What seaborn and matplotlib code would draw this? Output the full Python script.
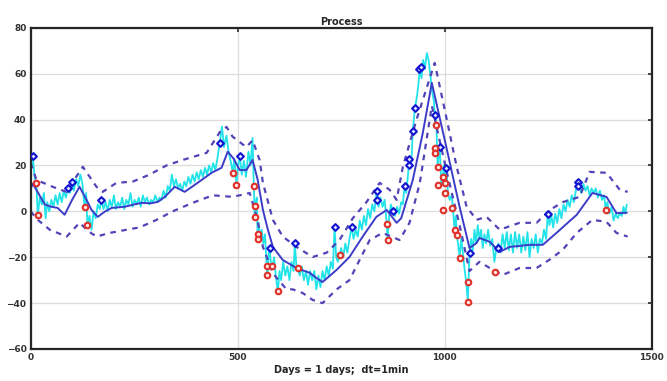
import matplotlib
matplotlib.use('Agg')
import matplotlib.pyplot as plt
import seaborn as sns

# noisy observations (cyan)
obs_x = [0, 5, 10, 14, 17, 22, 27, 32, 36, 40, 45, 50, 55, 60, 65, 70, 75, 80, 85, 90, 95, 99, 104, 110, 115, 120, 125, 130, 134, 137,
         142, 147, 152, 157, 162, 167, 171, 176, 181, 186, 191, 196, 201, 206, 211, 216, 221, 226, 231, 236, 241, 246, 251, 256, 261,
         266, 271, 276, 281, 286, 291, 296, 301, 306, 311, 316, 321, 326, 331, 336, 341, 346, 351, 356, 361, 366, 371, 376, 381, 386,
         391, 396, 401, 406, 411, 416, 421, 426, 431, 436, 441, 446, 451, 457, 462, 467, 473, 478, 483, 488, 492, 497, 501, 505, 510,
         515, 520, 526, 531, 536, 539, 541, 543, 546, 548, 551, 554, 558, 562, 566, 570, 572, 575, 577, 580, 584, 588, 592, 597, 601,
         605, 610, 615, 620, 625, 630, 635, 638, 642, 645, 650, 655, 660, 665, 670, 675, 680, 685, 690, 695, 700, 705, 710, 715, 720,
         725, 730, 734, 738, 742, 746, 750, 755, 760, 765, 770, 775, 780, 785, 790, 795, 800, 805, 810, 815, 820, 825, 830, 836, 840,
         845, 850, 855, 860, 862, 866, 870, 875, 880, 885, 890, 895, 899, 903, 907, 911, 915, 919, 923, 928, 933, 937, 940, 944, 948,
         952, 957, 961, 965, 970, 974, 976, 980, 983, 986, 988, 992, 995, 998, 1000, 1004, 1008, 1012, 1017, 1020, 1024, 1027, 1029,
         1033, 1036, 1040, 1044, 1048, 1052, 1056, 1060, 1064, 1068, 1072, 1076, 1080, 1084, 1088, 1092, 1096, 1100, 1105, 1110, 1115,
         1120, 1125, 1130, 1135, 1140, 1145, 1150, 1155, 1160, 1165, 1170, 1175, 1180, 1185, 1190, 1195, 1200, 1205, 1210, 1215, 1220,
         1225, 1230, 1235, 1240, 1245, 1249, 1253, 1258, 1262, 1267, 1272, 1277, 1282, 1287, 1292, 1297, 1302, 1307, 1312, 1317, 1321,
         1325, 1330, 1335, 1340, 1345, 1350, 1355, 1360, 1365, 1370, 1375, 1380, 1385, 1389, 1393, 1398, 1403, 1408, 1413, 1418, 1423,
         1428, 1432, 1436, 1440]
obs_y = [18, 24, 14, 12, -2, 6, 3, 8, -3, 4, 0, 5, 2, 7, 3, 8, 4, 9, 6, 10, 8, 13, 9, 14, 11, 16, 12, 2, 8, -6,
         -2, -8, 0, -3, 3, 1, 5, 1, 4, 0, 5, 2, 7, 1, 4, 2, 6, 1, 5, 3, 8, 2, 5, 3, 6,
         2, 7, 4, 6, 3, 5, 4, 7, 4, 6, 5, 9, 6, 11, 9, 16, 11, 14, 10, 12, 9, 13, 11, 15, 12,
         16, 13, 17, 14, 18, 15, 19, 16, 20, 17, 21, 18, 23, 30, 37, 28, 33, 26, 22, 17, 23, 12, 20, 24, 16,
         22, 15, 26, 20, 32, 11, -2, 2, 6, -10, -5, -12, -8, -14, -10, -24, -28, -18, -16, -22, -24, -20, -28, -35, -26,
         -30, -22, -28, -24, -30, -22, -26, -14, -24, -25, -28, -24, -30, -26, -32, -26, -30, -26, -34, -28, -33, -26, -30, -24, -28,
         -22, -25, -7, -20, -22, -19, -16, -20, -14, -18, -12, -7, -12, -8, -11, -4, -8, -2, -6, 1, -3, 3, 0, 9, 2,
         6, 2, 5, -5, -12, -2, 3, 0, -2, 2, -1, 4, 3, 11, 8, 15, 23, 19, 35, 45, 50, 56, 63, 58, 66,
         62, 69, 66, 60, 52, 48, 42, 38, 19, 27, 28, 12, 15, 20, 12, 19, 8, 5, 7, 1, -8, -2, -10,
         -15, -20, -12, -18, -25, -31, -39, -18, -12, -17, -8, -14, -6, -12, -8, -16, -10, -14, -8, -15, -12,
         -22, -16, -14, -18, -10, -16, -9, -17, -10, -18, -9, -16, -10, -18, -11, -17, -9, -20, -12, -16, -10,
         -18, -12, -14, -8, -12, -1, -6, -2, -7, -1, -5, 1, -3, 3, 0, 5, 2, 7, 4, 9, 13,
         11, 8, 12, 9, 11, 7, 10, 8, 10, 6, 9, 5, 7, 1, 4, -1, 2, -4, -1, -3, -1,
         -2, 2, -1, 3]

# smoothed estimate (blue)
est_x = [0, 5, 15, 34, 50, 65, 82, 100, 118, 135, 147, 162, 180, 196, 227, 250, 268, 290, 307, 324, 348, 372, 403, 437, 461,
         476, 490, 505, 521, 536, 548, 561, 573, 585, 609, 642, 674, 690, 705, 720, 739, 770, 802, 835, 860, 884, 895, 923,
         947, 969, 1004, 1036, 1060, 1077, 1084, 1109, 1133, 1157, 1205, 1237, 1270, 1319, 1357, 1391, 1415, 1440]
est_y = [10, 12, 9, 3, 2, 1.5, -1.5, 5, 10.7, 5, 0.6, -2.4, 0, 1.5, 2, 3, 3.7, 3.5, 4.1, 6.3, 10.7, 8.5, 12.4, 16.8, 19,
         26, 23, 18, 18, 22.4, 14, 0.6, -8, -15.5, -21.2, -24.7, -26.8, -29, -30.8, -28.5, -25.5, -19.9, -11, -2.4, 0.6, -5, -3, 13.7,
         34, 56, 28, 2, -16, -13.8, -11.6, -13.3, -17.7, -15.5, -14.6, -14.6, -9.4, -1.5, 8, 6.3, -0.8, -0.6]

# confidence bounds (dashed)
up_x = [0, 14, 53, 86, 126, 159, 174, 207, 247, 287, 328, 367, 425, 457, 473, 488, 521, 536, 553, 561, 585, 609, 642, 681,
        715, 746, 778, 811, 843, 867, 884, 899, 932, 976, 1004, 1029, 1053, 1077, 1101, 1133, 1181, 1222, 1254, 1285, 1326,
        1350, 1391, 1423, 1442]
up_y = [21, 13.7, 10.7, 8.5, 19.4, 10.7, 8.5, 12.4, 13, 16, 20, 22.4, 25.5, 34.6, 36.8, 32.5, 28, 31, 22.4, 12.4, -3.7, -11,
        -15.5, -19.9, -18, -12.5, -3, 4, 12.4, 9.4, 5, 19.4, 40, 64.7, 41, 19.4, 2, -3.7, -2.4, -8, -5, -5, 0.6, 4, 6.3,
        17.2, 16.8, 9.4, 8.5]
lo_x = [0, 17, 46, 87, 118, 142, 159, 191, 232, 263, 304, 343, 391, 440, 488, 529, 546, 561, 585, 618, 633, 657, 681, 705,
        739, 770, 795, 819, 850, 891, 915, 940, 969, 1004, 1036, 1060, 1084, 1109, 1140, 1181, 1222, 1254, 1285, 1319, 1357,
        1391, 1415, 1442]
lo_y = [0, -3.7, -8, -11, -5, -9, -11, -9.4, -8, -7, -3.7, 0, 3.7, 7, 6.3, 8, -2.4, -15.5, -27, -34, -34, -35.6, -38.6, -40,
        -34, -30, -21, -12.5, -9.4, -12.5, -5, 12.4, 46, 18, -6, -26, -22, -24.7, -27.7, -24.7, -24.7, -21, -16.8, -9.4, -3.7,
        -4.6, -9.4, -11]

# outliers above (blue) / below (red)
hi_x = [5, 90, 99, 171, 457, 505, 577, 638, 734, 775, 836, 836, 875, 903, 915, 915, 923, 928, 938, 942, 976, 988, 1004,
        1060, 1128, 1249, 1321, 1321]
hi_y = [24, 10, 13, 5, 30, 24, -16, -14, -7, -7, 9, 5, 0, 11, 20, 23, 35, 45, 62, 63, 42, 28, 19, -18, -16, -1, 13, 11]
lo_mx = [12, 17, 130, 137, 488, 497, 539, 543, 541, 548, 548, 570, 584, 572, 597, 645, 746, 860, 862, 980, 976, 976, 983,
         983, 995, 1000, 1000, 995, 1017, 1024, 1029, 1036, 1056, 1056, 1121, 1389]
lo_my = [12.4, -1.6, 2, -6, 16.7, 11.5, 11, 2.4, -2.4, -10, -12, -23.8, -23.8, -27.7, -34.7, -24.7, -19, -5.5, -12.5, 37.7,
         27.7, 25.5, 19.4, 11.5, 15, 12.4, 8, 0.6, 1.5, -8, -10.3, -20.3, -31, -39.5, -26.4, 0.6]

sns.set_style('white')
plt.rcParams['font.family'] = ['DejaVu Sans']

fig = plt.figure(figsize=(6.67, 3.81), dpi=100)
ax = fig.add_axes([0.046, 0.084, 0.931, 0.843])

sns.lineplot(x=obs_x, y=obs_y, sort=False, estimator=None, color='#22e3ea', lw=1.3, ax=ax)
sns.lineplot(x=est_x, y=est_y, sort=False, estimator=None, color='#3c3cc8', lw=1.4, ax=ax)
sns.lineplot(x=up_x, y=up_y, sort=False, estimator=None, color='#5044b8', lw=1.6, ls=(0, (2.5, 2.5)), ax=ax)
sns.lineplot(x=lo_x, y=lo_y, sort=False, estimator=None, color='#5044b8', lw=1.6, ls=(0, (2.5, 2.5)), ax=ax)
sns.scatterplot(x=hi_x, y=hi_y, marker='D', s=12, facecolor='#dfe4ff', edgecolor='#1212d0', linewidth=1.5, ax=ax, zorder=5)
sns.scatterplot(x=lo_mx, y=lo_my, marker='o', s=16, facecolor='#ffe6e0', edgecolor='#e0302a', linewidth=1.5, ax=ax, zorder=5)

ax.set_xlim(0, 1500)
ax.set_ylim(-60, 80)
ax.set_xticks([0, 500, 1000, 1500])
ax.set_yticks(range(-60, 81, 20))
ax.grid(True, color='#dcdcdc', lw=0.9)
ax.set_axisbelow(True)
ax.tick_params(direction='in', length=3, width=1.2, labelsize=6.5, top=True, right=True, pad=3)
for lab in ax.get_xticklabels() + ax.get_yticklabels():
    lab.set_fontweight('bold')
    lab.set_color('#333333')
for sp in ax.spines.values():
    sp.set_linewidth(1.6)
    sp.set_color('#262626')
ax.set_title('Process', fontsize=7, fontweight='bold', pad=2)
ax.set_xlabel('Days = 1 days;  dt=1min', fontsize=7, fontweight='bold', labelpad=2)
ax.set_ylabel('')

fig.savefig('out.png', dpi=100)
